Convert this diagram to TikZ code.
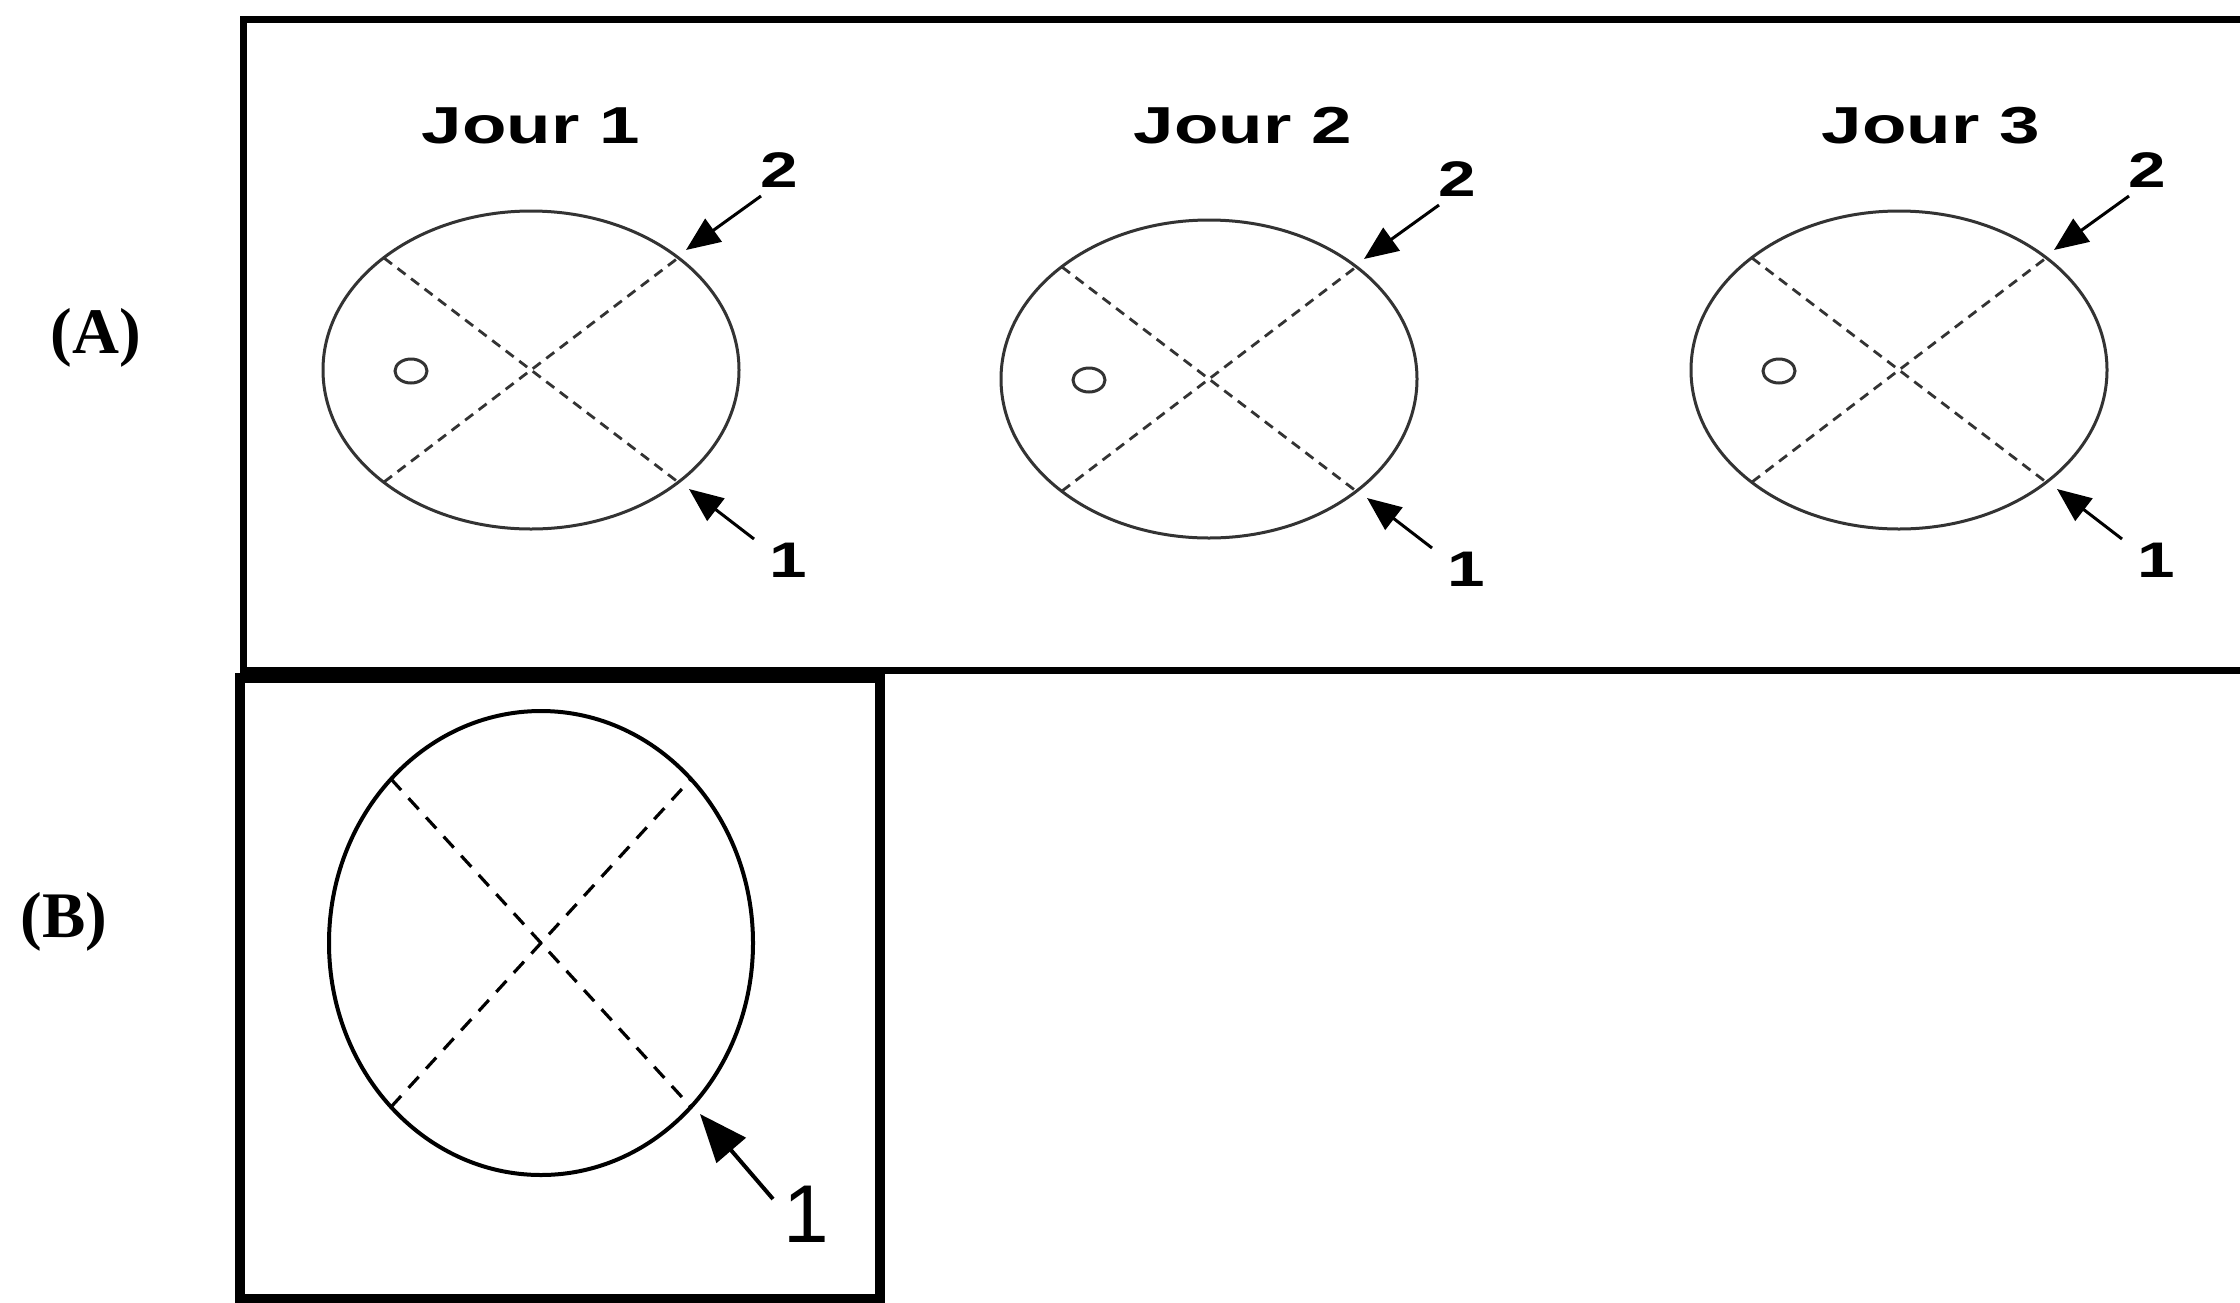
\documentclass[tikz,border=0pt]{standalone}
\usepackage{fontspec}
\setmainfont{Liberation Serif}
\newfontfamily\arialf{Liberation Sans}
\usetikzlibrary{arrows.meta}
\definecolor{inkA}{HTML}{333333}
\tikzset{
  ellA/.style={draw=inkA, line width=3pt},
  ellB/.style={draw=black, line width=4pt},
  crossA/.style={draw=inkA, line width=2.8pt, dash pattern=on 10pt off 7pt},
  crossB/.style={draw=black, line width=3.2pt, dash pattern=on 15pt off 11pt},
  arrA/.style={draw=black, line width=3pt, -{Triangle[length=34pt,width=28pt]}},
  arrB/.style={draw=black, line width=4pt, -{Triangle[length=48pt,width=38pt]}},
  jourlbl/.style={font=\arialf\bfseries\fontsize{52}{60}\selectfont, inner sep=0pt},
  numA/.style={font=\arialf\bfseries\fontsize{50}{58}\selectfont, inner sep=0pt},
  numB/.style={font=\arialf\fontsize{82}{92}\selectfont, inner sep=0pt},
  panellbl/.style={font=\bfseries\fontsize{65}{75}\selectfont, inner sep=0pt},
  boxA/.style={draw=black, line width=7pt},
  boxB/.style={draw=black, line width=10pt},
  jour/.pic={
    \draw[ellA] (0,0) ellipse [x radius=208pt, y radius=159pt];
    \coordinate (-ul) at (-147,-112);
    \coordinate (-ur) at (147,-112);
    \coordinate (-ll) at (-147,112);
    \coordinate (-lr) at (147,112);
    \draw[crossA] (-ul) -- (-lr);
    \draw[crossA] (-ll) -- (-ur);
    \draw[ellA] (-120,1) ellipse [x radius=16pt, y radius=12pt];
    \coordinate (-t2) at (155,-120);
    \coordinate (-s2) at (230,-174);
    \coordinate (-t1) at (158,119);
    \coordinate (-s1) at (223,169);
    \draw[arrA] (-s2) -- (-t2);
    \draw[arrA] (-s1) -- (-t1);
    \node[numA] (-l2) at (248,-200) {\scalebox{1.35}[1]{2}};
    \node[numA] (-l1) at (257,190) {\scalebox{1.35}[1]{1}};
  }
}
\begin{document}
\begin{tikzpicture}[x=1pt,y=-1pt]
\useasboundingbox (0,0) rectangle (2240,1302);
\clip (0,0) rectangle (2240,1302);
\fill[white] (0,0) rectangle (2240,1302);

% frames
\draw[boxA] (2260,19) -- (243,19) -- (243,670) -- (2260,670);
\draw[boxB] (240,678) rectangle (880,1299);

% panel labels
\node[panellbl] (pA) at (96,338) {(A)};
\node[panellbl] (pB) at (64,922) {(B)};

% day titles
\node[jourlbl] (j1) at (531,126) {\scalebox{1.4}[1]{Jour 1}};
\node[jourlbl] (j2) at (1243,126) {\scalebox{1.4}[1]{Jour 2}};
\node[jourlbl] (j3) at (1931,126) {\scalebox{1.4}[1]{Jour 3}};

% day ellipses
\pic (d1) at (531,370) {jour};
\pic (d2) at (1209,379) {jour};
\pic (d3) at (1899,370) {jour};

% panel B
\coordinate (bc) at (541,943);
\draw[ellB] (bc) ellipse [x radius=212pt, y radius=232pt];
\coordinate (bul) at (391,779);
\coordinate (bur) at (691,779);
\coordinate (bll) at (391,1107);
\coordinate (blr) at (691,1107);
\draw[crossB] (bul) -- (blr);
\draw[crossB] (bll) -- (bur);
\coordinate (bt) at (700,1114);
\coordinate (bs) at (773,1199);
\draw[arrB] (bs) -- (bt);
\node[numB] (bl1) at (806,1214) {1};
\end{tikzpicture}
\end{document}
